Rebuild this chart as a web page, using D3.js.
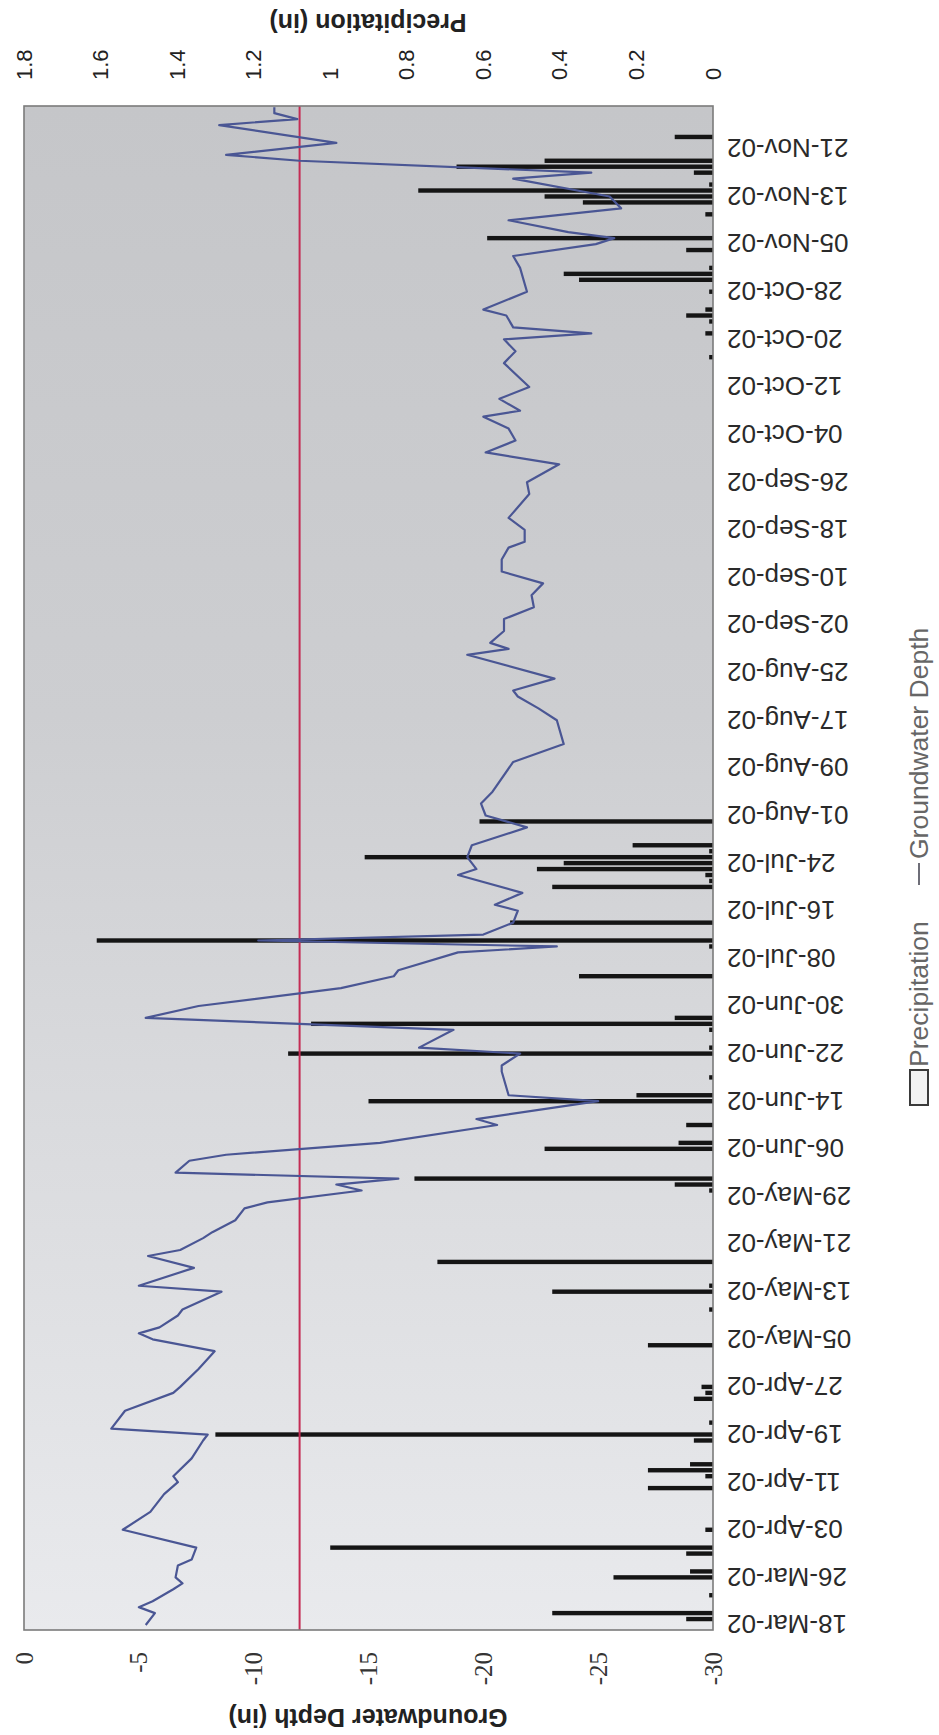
<!DOCTYPE html>
<html>
<head>
<meta charset="utf-8">
<script src="https://cdn.jsdelivr.net/npm/d3@7"></script>
<style>
  html, body { margin: 0; padding: 0; background: #fff; }
  svg { display: block; }
  text { font-family: "Liberation Sans", Arial, sans-serif; }
</style>
</head>
<body>
<svg id="chart" width="939" height="1735"></svg>
<script>
// date axis labels (one every 8 days)
const dateTicks = ['18-Mar-02', '26-Mar-02', '03-Apr-02', '11-Apr-02', '19-Apr-02', '27-Apr-02',
    '05-May-02', '13-May-02', '21-May-02', '29-May-02', '06-Jun-02', '14-Jun-02', '22-Jun-02',
    '30-Jun-02', '08-Jul-02', '16-Jul-02', '24-Jul-02', '01-Aug-02', '09-Aug-02', '17-Aug-02',
    '25-Aug-02', '02-Sep-02', '10-Sep-02', '18-Sep-02', '26-Sep-02', '04-Oct-02', '12-Oct-02',
    '20-Oct-02', '28-Oct-02', '05-Nov-02', '13-Nov-02', '21-Nov-02']

// groundwater depth: day number counted from 18-Mar-02, depth in inches
const gwDay = [0, 2, 3, 4, 6, 7, 8, 10, 11, 13, 16, 19, 22, 24, 25, 28, 31, 32, 33, 36, 39, 40, 43, 46,
    48, 49, 50, 52, 53, 56, 57, 60, 62, 63, 65, 66, 68, 70, 71, 73, 74, 75, 76, 78, 79, 81, 84, 85,
    88, 89, 93, 94, 96, 97, 100, 102, 104, 107, 109, 110, 113, 114, 115, 116, 118, 120, 121, 123,
    126, 127, 129, 131, 134, 136, 138, 140, 145, 148, 152, 154, 156, 157, 159, 163, 164, 165, 167,
    169, 171, 173, 175, 177, 179, 181, 182, 184, 186, 190, 192, 195, 197, 199, 201, 203, 204, 206,
    208, 212, 214, 216, 217, 218, 220, 221, 224, 228, 230, 232, 233, 234, 236, 238, 240, 243, 244,
    246, 247, 249, 252, 253, 254, 255]
const gwDepth = [-5.3, -5.7, -5.0, -5.6, -6.5, -6.9, -6.6, -6.7, -7.3, -7.5, -4.3, -5.5, -6.1, -6.7,
    -6.5, -7.3, -7.8, -8.0, -3.8, -4.4, -6.5, -6.8, -7.6, -8.3, -5.6, -5.0, -5.9, -6.7, -6.9, -8.6,
    -5.0, -7.4, -5.4, -6.8, -7.8, -8.2, -9.2, -9.6, -10.6, -14.7, -13.6, -16.3, -6.6, -7.2, -8.8,
    -15.5, -20.6, -19.7, -25.0, -21.1, -20.8, -20.8, -21.6, -17.2, -18.7, -5.3, -7.6, -13.8, -16.1,
    -16.3, -18.9, -23.2, -10.2, -20.0, -21.3, -21.5, -20.5, -21.7, -18.9, -19.7, -19.3, -19.5, -21.9,
    -20.1, -19.9, -20.4, -21.3, -23.5, -23.2, -22.4, -21.5, -21.3, -23.1, -19.3, -21.1, -20.3, -20.9,
    -20.9, -22.2, -22.1, -22.6, -20.8, -20.8, -21.1, -21.8, -21.8, -21.1, -22.0, -21.9, -23.3, -20.1,
    -21.4, -21.1, -20.0, -21.6, -20.7, -22.0, -20.9, -21.4, -20.9, -24.7, -21.3, -21.0, -20.0, -21.9,
    -21.6, -21.3, -24.9, -25.7, -23.7, -21.1, -26.0, -25.5, -21.3, -24.7, -12.0, -8.8, -13.6, -8.5,
    -11.9, -10.9, -10.9]

// daily precipitation, inches (days without rain left out)
const rainDay = [1, 2, 5, 8, 9, 12, 13, 16, 23, 25, 26, 27, 31, 32, 34, 38, 39, 40, 47, 53, 56, 57,
    61, 73, 74, 75, 80, 81, 84, 88, 89, 92, 96, 97, 100, 101, 102, 109, 114, 115, 118, 124, 125,
    126, 127, 128, 129, 130, 131, 135, 213, 217, 219, 220, 221, 224, 226, 227, 228, 231, 233, 237,
    239, 240, 241, 242, 244, 245, 246, 250]
const rainIn = [0.07, 0.42, 0.01, 0.26, 0.06, 0.07, 1.0, 0.02, 0.17, 0.02, 0.17, 0.06, 0.05, 1.3,
    0.01, 0.05, 0.02, 0.03, 0.17, 0.01, 0.42, 0.01, 0.72, 0.01, 0.1, 0.78, 0.44, 0.09, 0.07, 0.9,
    0.2, 0.01, 1.11, 0.01, 0.01, 1.05, 0.1, 0.35, 0.01, 1.61, 0.53, 0.42, 0.01, 0.02, 0.46, 0.39,
    0.91, 0.01, 0.21, 0.61, 0.01, 0.02, 0.01, 0.07, 0.02, 0.01, 0.35, 0.39, 0.01, 0.07, 0.59, 0.02,
    0.34, 0.44, 0.77, 0.01, 0.05, 0.67, 0.44, 0.1]

const depthTicks = [0, -5, -10, -15, -20, -25, -30]
const rainTicks = [0, 0.2, 0.4, 0.6, 0.8, 1, 1.2, 1.4, 1.6, 1.8]
const refDepth = -12

// the chart is laid out the normal way (1735 wide, 939 high) and then turned a quarter left
const W = 1735, H = 939
const plot = { left: 105, right: 1629, top: 24, bottom: 713 }
const DAY = 864e5

const parse = d3.utcParse('%d-%b-%y')
const start = parse(dateTicks[0])
const toDate = d => new Date(+start + d * DAY)

const x = d3.scaleUtc()
    .domain([toDate(-0.84), toDate(255.2)])
    .range([plot.left, plot.right])
const yGw = d3.scaleLinear().domain([0, -30]).range([plot.top, plot.bottom])
const yRain = d3.scaleLinear().domain([0, 1.8]).range([plot.bottom, plot.top])

const svg = d3.select('#chart')
const g = svg.append('g').attr('transform', 'translate(0,' + W + ') rotate(-90)')

// plot background, scanned grey getting lighter towards the start of the record
const defs = svg.append('defs')
const grad = defs.append('linearGradient')
    .attr('id', 'bg')
    .attr('gradientUnits', 'userSpaceOnUse')
    .attr('x1', plot.left).attr('x2', plot.right).attr('y1', 0).attr('y2', 0)
grad.append('stop').attr('offset', '0').attr('stop-color', '#e9eaed')
grad.append('stop').attr('offset', '0.35').attr('stop-color', '#d9dadd')
grad.append('stop').attr('offset', '0.6').attr('stop-color', '#cdced1')
grad.append('stop').attr('offset', '1').attr('stop-color', '#c5c6c9')

defs.append('clipPath').attr('id', 'clip')
    .append('rect')
    .attr('x', plot.left).attr('y', plot.top)
    .attr('width', plot.right - plot.left).attr('height', plot.bottom - plot.top)

g.append('rect')
    .attr('x', plot.left).attr('y', plot.top)
    .attr('width', plot.right - plot.left).attr('height', plot.bottom - plot.top)
    .attr('fill', 'url(#bg)')

// precipitation bars
const bw = 4.4
let rain = rainDay.map((d, i) => ({ day: d, value: rainIn[i] }))
g.append('g')
    .attr('clip-path', 'url(#clip)')
    .selectAll('rect')
    .data(rain)
    .enter()
    .append('rect')
    .attr('x', d => x(toDate(d.day)) - bw / 2)
    .attr('y', d => yRain(d.value))
    .attr('width', bw)
    .attr('height', d => yRain(0) - yRain(d.value))
    .attr('fill', '#151515')

// reference depth
g.append('line')
    .attr('x1', plot.left).attr('x2', plot.right)
    .attr('y1', yGw(refDepth)).attr('y2', yGw(refDepth))
    .attr('stroke', '#c42c54')
    .attr('stroke-width', 2)

// groundwater depth line
let gw = gwDay.map((d, i) => ({ day: d, depth: gwDepth[i] }))
const line = d3.line()
    .x(d => x(toDate(d.day)))
    .y(d => yGw(d.depth))
g.append('path')
    .datum(gw)
    .attr('clip-path', 'url(#clip)')
    .attr('d', line)
    .attr('fill', 'none')
    .attr('stroke', '#4a5694')
    .attr('stroke-width', 2.2)
    .attr('stroke-linejoin', 'round')

// frame
g.append('rect')
    .attr('x', plot.left).attr('y', plot.top)
    .attr('width', plot.right - plot.left).attr('height', plot.bottom - plot.top)
    .attr('fill', 'none')
    .attr('stroke', '#7b7b7b')
    .attr('stroke-width', 1.6)

// left axis: groundwater depth
const axGw = g.append('g')
    .attr('transform', 'translate(' + plot.left + ',0)')
    .call(d3.axisLeft(yGw).tickValues(depthTicks).tickSize(0).tickPadding(22)
        .tickFormat(d => String(d)))
axGw.select('.domain').remove()
axGw.selectAll('text')
    .style('font-family', '"Liberation Serif", "Times New Roman", serif')
    .style('font-size', '25px')
    .attr('fill', '#333')

// right axis: precipitation
const axRain = g.append('g')
    .attr('transform', 'translate(' + plot.right + ',0)')
    .call(d3.axisRight(yRain).tickValues(rainTicks).tickSize(0).tickPadding(26)
        .tickFormat(d3.format('~g')))
axRain.select('.domain').remove()
axRain.selectAll('text')
    .style('font-size', '22px')
    .attr('fill', '#222')

// date axis
const axDate = g.append('g')
    .attr('transform', 'translate(0,' + plot.bottom + ')')
    .call(d3.axisBottom(x).tickValues(dateTicks.map(parse)).tickSize(0)
        .tickFormat((d, i) => dateTicks[i]))
axDate.select('.domain').remove()
axDate.selectAll('text')
    .attr('transform', 'rotate(-90)')
    .attr('x', -14)
    .attr('y', 0)
    .attr('dy', '0.35em')
    .attr('text-anchor', 'end')
    .style('font-size', '26px')
    .attr('fill', '#2a2a2a')

// axis titles
g.append('text')
    .attr('transform', 'translate(17,368) rotate(-90)')
    .attr('dy', '0.35em')
    .attr('text-anchor', 'middle')
    .style('font-size', '25px')
    .style('font-weight', 'bold')
    .attr('fill', '#222')
    .text('Groundwater Depth (in)')

g.append('text')
    .attr('transform', 'translate(' + (W - 23) + ',368) rotate(-90)')
    .attr('dy', '0.35em')
    .attr('text-anchor', 'middle')
    .style('font-size', '25px')
    .style('font-weight', 'bold')
    .attr('fill', '#222')
    .text('Precipitation (in)')

// legend
const legendY = 919
const legend = g.append('g')
legend.append('rect')
    .attr('x', 630).attr('y', legendY - 9)
    .attr('width', 35).attr('height', 18)
    .attr('fill', '#f2f2f2')
    .attr('stroke', '#3a3a3a')
    .attr('stroke-width', 2)
legend.append('text')
    .attr('x', 668).attr('y', legendY)
    .attr('dy', '0.35em')
    .style('font-size', '26.5px')
    .attr('fill', '#666')
    .text('Precipitation')
legend.append('line')
    .attr('x1', 850).attr('x2', 872)
    .attr('y1', legendY).attr('y2', legendY)
    .attr('stroke', '#6e6e78')
    .attr('stroke-width', 2)
legend.append('text')
    .attr('x', 876).attr('y', legendY)
    .attr('dy', '0.35em')
    .style('font-size', '26.5px')
    .attr('fill', '#666')
    .text('Groundwater Depth')
</script>
</body>
</html>
